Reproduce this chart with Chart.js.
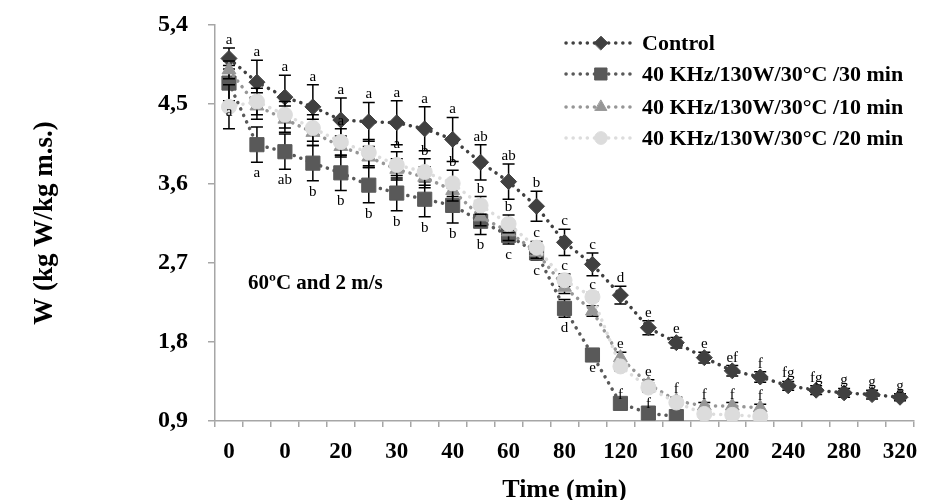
<!DOCTYPE html>
<html><head><meta charset="utf-8">
<script src="https://cdn.jsdelivr.net/npm/chart.js@4/dist/chart.umd.min.js"></script>
<style>html,body{margin:0;padding:0;background:#fff;} #wrap{width:925px;height:500px;position:relative;}</style>
</head><body><div id="wrap"><canvas id="c" width="925" height="500"></canvas></div>
<script>
// time categories (25 sampling points) and the tick labels shown (every second category)
const categories = ['0','5','10','15','20','25','30','35','40','50','60','70','80','100','120','140','160','180','200','220','240','260','280','300','320'];
const tickLabels = ['0','0','20','30','40','60','80','120','160','200','240','280','320'];
const yTickValues = [0.9, 1.8, 2.7, 3.6, 4.5, 5.4];

const seriesNames = ['Control', '40 KHz/130W/30°C /30 min', '40 KHz/130W/30°C /10 min', '40 KHz/130W/30°C /20 min'];

const control    = [5.02,4.75,4.58,4.47,4.32,4.30,4.29,4.22,4.10,3.84,3.62,3.34,2.93,2.68,2.33,1.96,1.79,1.62,1.47,1.40,1.30,1.25,1.22,1.20,1.17];
const controlErr = [0.12,0.25,0.25,0.25,0.25,0.22,0.25,0.25,0.25,0.20,0.20,0.17,0.15,0.13,0.10,0.08,0.06,0.06,0.06,0.06,0.05,0.05,0.05,0.05,0.04];
const us30       = [4.74,4.04,3.96,3.83,3.72,3.58,3.49,3.42,3.35,3.17,3.01,2.81,2.18,1.65,1.10,0.99,0.95];
const us30Err    = [0.20,0.20,0.20,0.20,0.20,0.20,0.20,0.20,0.20,0.15,0.10,0.08,0.10,0.02,0.02,0.02,0.02];
const us10       = [4.89,4.48,4.33,4.18,4.02,3.90,3.76,3.67,3.52,3.22,3.05,2.82,2.42,2.15,1.62,1.32,1.13,1.07,1.07,1.05];
const us10Err    = [0.10,0.15,0.15,0.15,0.12,0.12,0.12,0.12,0.12,0.10,0.10,0.07,0.07,0.06,0.06,0.05,0.04,0.04,0.04,0.04];
const us20       = [4.47,4.53,4.38,4.23,4.07,3.95,3.81,3.73,3.60,3.35,3.14,2.87,2.50,2.31,1.52,1.28,1.11,0.98,0.97,0.95];
const us20Err    = [0.25,0.15,0.15,0.15,0.15,0.15,0.15,0.15,0.15,0.10,0.10,0.07,0.07,0.05,0.05,0.05,0.03,0.02,0.02,0.02];

const controlLetters = ['a','a','a','a','a','a','a','a','a','ab','ab','b','c','c','d','e','e','e','ef','f','fg','fg','g','g','g'];
const us30Letters    = ['a','a','ab','b','b','b','b','b','b','b','c','c','d','e','f','f',''];
const us20Letters    = ['','','','','a','','a','b','b','b','b','c','c','c','e','e','f','f','f','f'];
const annotationText = '60ºC and 2 m/s';

const colors = ['#404040','#595959','#969696','#dcdcdc'];
const serif = "'Liberation Serif', 'Times New Roman', serif";

function mkDs(label, data, err, color, style, radius, order){
  return {label, data, errors: err, borderColor: color, backgroundColor: color,
    pointBackgroundColor: color, pointBorderColor: color, pointStyle: style, pointRadius: radius,
    pointBorderWidth: 1, borderWidth: 3.5, borderDash: [0.1, 7], borderCapStyle: 'round',
    tension: 0, fill: false, order};
}

const errorBars = {
  id: 'errorBars',
  beforeDatasetDraw(chart, args){
    const ds = chart.data.datasets[args.index];
    const xs = chart.scales.x, ys = chart.scales.y, ctx = chart.ctx;
    ctx.save();
    ctx.strokeStyle = '#000'; ctx.lineWidth = 1.5; ctx.setLineDash([]);
    ds.data.forEach((v, i) => {
      const e = ds.errors[i]; if (!e) return;
      const x = xs.getPixelForValue(i);
      const y1 = ys.getPixelForValue(v + e), y2 = ys.getPixelForValue(v - e);
      ctx.beginPath();
      ctx.moveTo(x, y1); ctx.lineTo(x, y2);
      ctx.moveTo(x - 6, y1); ctx.lineTo(x + 6, y1);
      ctx.moveTo(x - 6, y2); ctx.lineTo(x + 6, y2);
      ctx.stroke();
    });
    ctx.restore();
  }
};

const letters = {
  id: 'letters',
  afterDatasetsDraw(chart){
    const xs = chart.scales.x, ys = chart.scales.y, ctx = chart.ctx;
    ctx.save();
    ctx.fillStyle = '#000'; ctx.font = '15px ' + serif; ctx.textAlign = 'center';
    ctx.textBaseline = 'alphabetic';
    controlLetters.forEach((t, i) => {
      if (!t) return;
      ctx.fillText(t, xs.getPixelForValue(i), ys.getPixelForValue(control[i] + controlErr[i]) - 4);
    });
    us20Letters.forEach((t, i) => {
      if (!t) return;
      const top = Math.min(ys.getPixelForValue(us20[i] + us20Err[i]), ys.getPixelForValue(us10[i] + us10Err[i]));
      ctx.fillText(t, xs.getPixelForValue(i), top - 4);
    });
    us30Letters.forEach((t, i) => {
      if (!t) return;
      const x = xs.getPixelForValue(i);
      const below = ys.getPixelForValue(us30[i] - us30Err[i]) + 15;
      if (below + 8 < chart.chartArea.bottom) ctx.fillText(t, x, below);
      else ctx.fillText(t, x, ys.getPixelForValue(us30[i] + us30Err[i]) - 3);
    });
    ctx.font = 'bold 21px ' + serif; ctx.textAlign = 'left'; ctx.textBaseline = 'middle';
    ctx.fillText(annotationText, 248, 284);
    ctx.restore();
  }
};

const customLegend = {
  id: 'customLegend',
  afterDraw(chart){
    const ctx = chart.ctx;
    const rows = [43, 74, 107, 138];
    chart.data.datasets.forEach((ds, k) => {
      const y = rows[k];
      ctx.save();
      ctx.strokeStyle = ds.borderColor; ctx.lineWidth = 3.5; ctx.lineCap = 'round';
      ctx.setLineDash([0.1, 7]);
      ctx.beginPath(); ctx.moveTo(566, y); ctx.lineTo(630, y); ctx.stroke();
      ctx.setLineDash([]);
      ctx.fillStyle = ds.backgroundColor; ctx.strokeStyle = ds.borderColor; ctx.lineWidth = 1;
      Chart.helpers.drawPoint(ctx, {pointStyle: ds.pointStyle, radius: ds.pointRadius * 0.85, rotation: 0, borderWidth: 1}, 601, y);
      ctx.fillStyle = '#000'; ctx.font = 'bold 22px ' + serif; ctx.textAlign = 'left'; ctx.textBaseline = 'middle';
      ctx.fillText(seriesNames[k], 642, y + 1);
      ctx.restore();
    });
  }
};

new Chart(document.getElementById('c'), {
  type: 'line',
  data: {
    labels: categories,
    datasets: [
      mkDs(seriesNames[0], control, controlErr, colors[0], 'rectRot', 8, 3),
      mkDs(seriesNames[1], us30, us30Err, colors[1], 'rect', 10, 2),
      mkDs(seriesNames[2], us10, us10Err, colors[2], 'triangle', 8, 1),
      mkDs(seriesNames[3], us20, us20Err, colors[3], 'circle', 7.5, 0)
    ]
  },
  options: {
    responsive: false, animation: false, devicePixelRatio: 1,
    layout: {padding: {top: 25, right: 1, left: 0, bottom: 0}},
    plugins: {legend: {display: false}, tooltip: {enabled: false}},
    scales: {
      x: {
        type: 'category', offset: true,
        grid: {offset: true, drawOnChartArea: false, tickLength: 6, color: '#a6a6a6', lineWidth: 1.5},
        border: {color: '#a6a6a6', width: 1.5},
        ticks: {autoSkip: false, maxRotation: 0, minRotation: 0, padding: 11, color: '#000',
          font: {family: serif, size: 23, weight: 'bold'},
          callback: (v, i) => (i % 2 === 0 ? tickLabels[i / 2] : '')},
        title: {display: true, text: 'Time (min)', color: '#000', font: {family: serif, size: 26, weight: 'bold', lineHeight: 1}, padding: {top: 0, bottom: -3}},
        afterFit: s => { s.height = 79; s.paddingLeft = 0; s.paddingRight = 0; }
      },
      y: {
        min: 0.9, max: 5.4,
        afterBuildTicks: s => { s.ticks = yTickValues.map(v => ({value: v})); },
        grid: {drawOnChartArea: false, tickLength: 7, color: '#a6a6a6', lineWidth: 1.5},
        border: {color: '#a6a6a6', width: 1.5},
        ticks: {padding: 20, color: '#000', font: {family: serif, size: 24, weight: 'bold', lineHeight: 1},
          callback: v => v.toFixed(1).replace('.', ',')},
        title: {display: true, text: 'W (kg W/kg m.s.)', color: '#000', font: {family: serif, size: 27, weight: 'bold', lineHeight: 1}, padding: {top: 32, bottom: 0}},
        afterFit: s => { s.width = 215; s.paddingTop = 0; s.paddingBottom = 0; }
      }
    }
  },
  plugins: [errorBars, letters, customLegend]
});
</script></body></html>
